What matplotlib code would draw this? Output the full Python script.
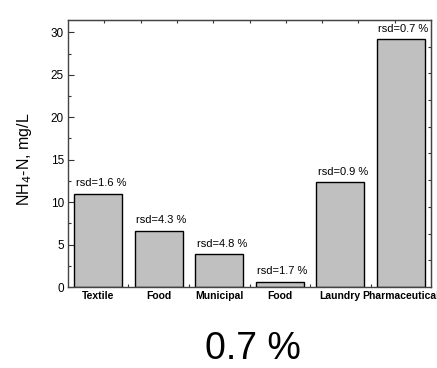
import matplotlib.pyplot as plt
from matplotlib.ticker import MultipleLocator, FixedLocator, NullFormatter

plt.rcParams['font.family'] = ['Liberation Sans', 'DejaVu Sans']

categories = ["Textile", "Food", "Municipal", "Food", "Laundry", "Pharmaceutical"]
nh4_n = [11.0, 6.6, 3.85, 0.62, 12.33, 29.17]
rsd = [1.6, 4.3, 4.8, 1.7, 0.9, 0.7]
highlight = "0.7 %"

fig = plt.figure(figsize=(4.37, 3.68), dpi=100)
ax = fig.add_axes([0.1556, 0.2201, 0.8307, 0.7256])

pos = list(range(1, len(categories) + 1))
bars = ax.bar(pos, nh4_n, width=0.8, color="#c0c0c0", edgecolor="black", linewidth=1.0)

for b, r in zip(bars, rsd):
    ax.annotate(f"rsd={r} %", (b.get_x() + b.get_width() / 2, b.get_height()),
                xytext=(2, 4), textcoords="offset points",
                ha="center", va="bottom", fontsize=8)

ax.set_xlim(0.5, 6.5)
ax.set_ylim(0, 31.45)
ax.set_axisbelow(True)

ax.set_xticks(pos)
ax.set_xticklabels(categories, fontsize=7.5, fontweight="bold")
ax.xaxis.set_minor_locator(FixedLocator([1.5, 2.5, 3.5, 4.5, 5.5]))
ax.yaxis.set_major_locator(MultipleLocator(5))
ax.yaxis.set_minor_locator(MultipleLocator(2.5))
ax.tick_params(axis="y", which="major", direction="in", length=4.5, width=0.8,
               labelsize=8.5, pad=3, color="#333333")
ax.tick_params(axis="y", which="minor", direction="in", length=2.5, width=0.8, color="#333333")
ax.tick_params(axis="x", which="major", direction="in", length=3, width=0.8, pad=3)
ax.tick_params(axis="x", which="minor", direction="in", length=2, width=0.8, color="#333333")

ax.set_ylabel("NH$_4$-N, mg/L", fontsize=11.5)
ax.yaxis.set_label_coords(-0.094, 0.48)

for s in ax.spines.values():
    s.set_color("#444444")
    s.set_linewidth(1.0)

# top and right axes carry their own evenly spaced ticks
frac = [i / 10 for i in range(1, 10)]
top = ax.secondary_xaxis("top", functions=(lambda x: (x - 0.5) / 6, lambda f: f * 6 + 0.5))
top.xaxis.set_major_locator(FixedLocator(frac))
top.xaxis.set_major_formatter(NullFormatter())
top.tick_params(direction="in", length=2.5, width=0.8, color="#333333")
right = ax.secondary_yaxis("right", functions=(lambda y: y / 31.45, lambda f: f * 31.45))
right.yaxis.set_major_locator(FixedLocator(frac))
right.yaxis.set_major_formatter(NullFormatter())
right.tick_params(direction="in", length=2.5, width=0.8, color="#333333")
for sec in (top, right):
    for s in sec.spines.values():
        s.set_color("#444444")

fig.text(0.579, 0.025, highlight, fontsize=27, ha="center", va="baseline")

fig.savefig("out.png", dpi=100)
